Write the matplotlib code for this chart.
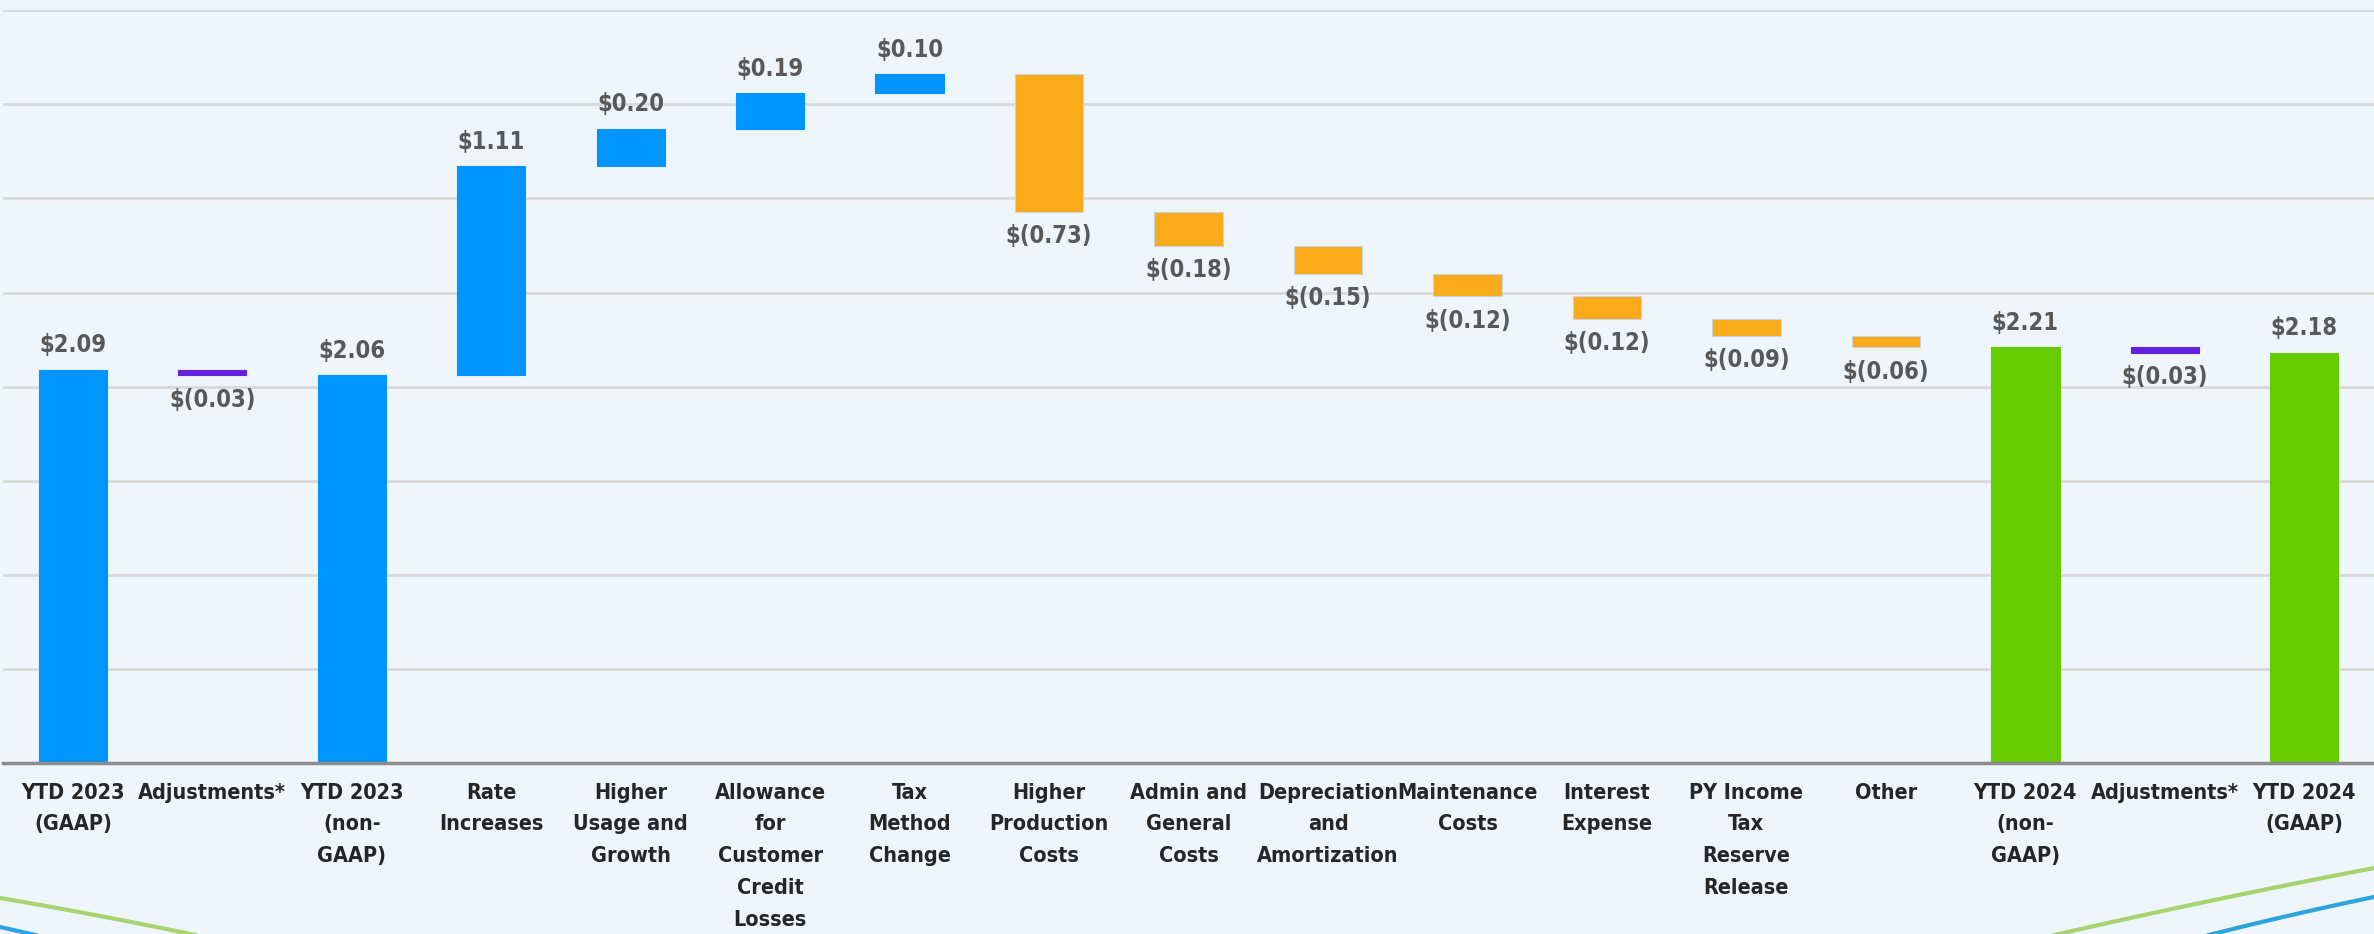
"""EPS bridge waterfall: YTD 2023 to YTD 2024."""

import matplotlib

matplotlib.use("Agg")
import matplotlib.pyplot as plt
import numpy as np
from matplotlib import font_manager
from matplotlib.lines import Line2D

categories = [
    "YTD 2023\n(GAAP)",
    "Adjustments*",
    "YTD 2023\n(non-\nGAAP)",
    "Rate\nIncreases",
    "Higher\nUsage and\nGrowth",
    "Allowance\nfor\nCustomer\nCredit\nLosses",
    "Tax\nMethod\nChange",
    "Higher\nProduction\nCosts",
    "Admin and\nGeneral\nCosts",
    "Depreciation\nand\nAmortization",
    "Maintenance\nCosts",
    "Interest\nExpense",
    "PY Income\nTax\nReserve\nRelease",
    "Other",
    "YTD 2024\n(non-\nGAAP)",
    "Adjustments*",
    "YTD 2024\n(GAAP)",
]
values = [2.09, -0.03, 2.06, 1.11, 0.20, 0.19, 0.10, -0.73, -0.18,
          -0.15, -0.12, -0.12, -0.09, -0.06, 2.21, -0.03, 2.18]
kinds = ["total", "adj", "total", "up", "up", "up", "up", "down", "down",
         "down", "down", "down", "down", "down", "total24", "adj", "total24"]

colors = {
    "total": "#0094FF",
    "up": "#0094FF",
    "down": "#F9AB19",
    "adj": "#6522DD",
    "total24": "#66CC00",
}
BG = "#EEF6FC"

# waterfall bottoms / heights
bottoms, heights = [], []
running = 0.0
for v, k in zip(values, kinds):
    if k.startswith("total"):
        bottoms.append(0.0)
        heights.append(v)
        running = v
    else:
        bottoms.append(running if v >= 0 else running + v)
        heights.append(abs(v))
        running += v


def fmt(v):
    return f"${v:.2f}" if v >= 0 else f"$({abs(v):.2f})"


# pick a narrow bold face if one is around, else shrink Liberation Sans
names = {f.name for f in font_manager.fontManager.ttflist}
condensed = [f for f in font_manager.fontManager.ttflist
             if f.name == "DejaVu Sans" and f.stretch in ("condensed", 87.5, 75)
             and f.weight in ("bold", 700)]
if "Liberation Sans Narrow" in names:
    FAMILY, STRETCH, CAT_SIZE, VAL_SIZE, LS = "Liberation Sans Narrow", "normal", 17, 19, 1.55
elif condensed:
    FAMILY, STRETCH, CAT_SIZE, VAL_SIZE, LS = "DejaVu Sans", "condensed", 15.5, 17, 1.74
else:
    FAMILY, STRETCH, CAT_SIZE, VAL_SIZE, LS = "Liberation Sans", "normal", 14, 18, 1.7

plt.rcParams["font.family"] = [FAMILY, "DejaVu Sans"]
plt.rcParams["font.stretch"] = STRETCH

fig = plt.figure(figsize=(23.74, 9.34), dpi=100, facecolor=BG)
ax = fig.add_axes([0.0013, 0.183, 0.9987, 0.806])
ax.set_facecolor(BG)

x = np.arange(len(categories))
for xi, b, h, k, v in zip(x, bottoms, heights, kinds, values):
    ax.bar(xi, h, bottom=b, width=0.49, color=colors[k],
           edgecolor="#c8d4dc" if k == "down" else colors[k],
           linewidth=0.8, zorder=3)
    if v >= 0:
        ax.annotate(fmt(v), (xi, b + h), xytext=(0, 9),
                    textcoords="offset points", ha="center", va="bottom",
                    fontsize=VAL_SIZE, fontweight="bold", color="#595959",
                    zorder=4)
    else:
        ax.annotate(fmt(v), (xi, b), xytext=(0, -9),
                    textcoords="offset points", ha="center", va="top",
                    fontsize=VAL_SIZE, fontweight="bold", color="#595959",
                    zorder=4)

ax.set_xlim(-0.5, len(categories) - 0.5)
ax.set_ylim(0, 4.0)
ax.set_yticks(np.arange(0.5, 4.01, 0.5))
ax.yaxis.grid(True, color="#d9d9d9", linewidth=2, zorder=0)
ax.tick_params(axis="y", left=False, labelleft=False)
ax.set_xticks(x)
ax.set_xticklabels(categories, fontsize=CAT_SIZE, fontweight="bold",
                   color="#262626", linespacing=LS)
ax.tick_params(axis="x", length=0, pad=14)

for side in ("top", "right", "left"):
    ax.spines[side].set_visible(False)
ax.spines["bottom"].set_color("#8c8c8c")
ax.spines["bottom"].set_linewidth(2.5)
ax.spines["bottom"].set_zorder(5)

# template swooshes in the bottom corners
W, H = 2374, 934


def swoosh(x0, y0, x1, y1, bend, color):
    t = np.linspace(0, 1, 50)
    xs = x0 + (x1 - x0) * t
    ys = y0 + (y1 - y0) * t + bend * t * (1 - t)
    fig.add_artist(Line2D(xs / W, 1 - ys / H, color=color, linewidth=3,
                          transform=fig.transFigure))


swoosh(0, 898, 200, 936, -4, "#A8D46F")
swoosh(0, 927, 40, 936, 0, "#2EA3DC")
swoosh(2374, 868, 2050, 936, -6, "#A8D46F")
swoosh(2374, 897, 2205, 936, -4, "#2EA3DC")

fig.savefig("out.png", dpi=100, facecolor=BG)
